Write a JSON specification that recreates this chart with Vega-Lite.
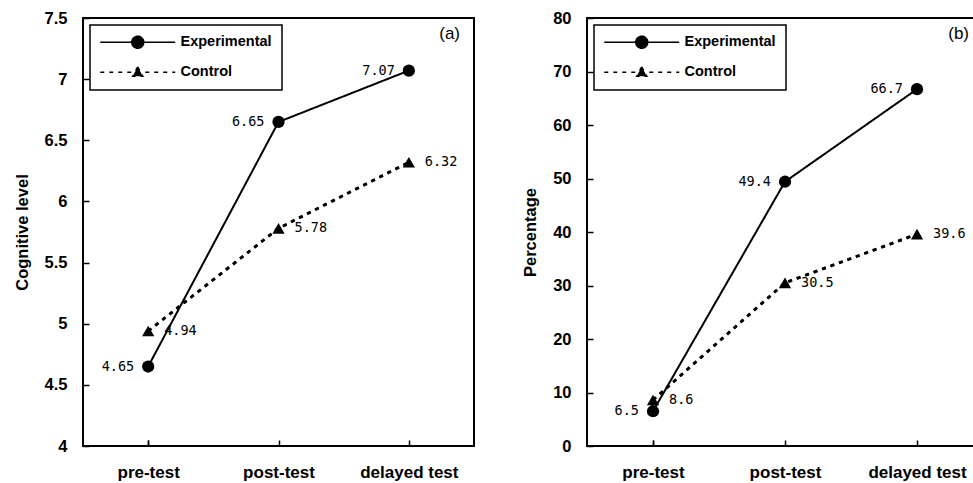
{
  "$schema": "https://vega.github.io/schema/vega-lite/v6.json",
  "background": "white",
  "padding": {"left": 13, "top": 9, "right": 0, "bottom": 0},
  "spacing": 46,
  "datasets": {
    "a": [
      {"time": "pre-test", "group": "Experimental", "value": 4.65},
      {"time": "post-test", "group": "Experimental", "value": 6.65},
      {"time": "delayed test", "group": "Experimental", "value": 7.07},
      {"time": "pre-test", "group": "Control", "value": 4.94},
      {"time": "post-test", "group": "Control", "value": 5.78},
      {"time": "delayed test", "group": "Control", "value": 6.32}
    ],
    "b": [
      {"time": "pre-test", "group": "Experimental", "value": 6.5},
      {"time": "post-test", "group": "Experimental", "value": 49.4},
      {"time": "delayed test", "group": "Experimental", "value": 66.7},
      {"time": "pre-test", "group": "Control", "value": 8.6},
      {"time": "post-test", "group": "Control", "value": 30.5},
      {"time": "delayed test", "group": "Control", "value": 39.6}
    ]
  },
  "config": {
    "view": {"stroke": "black", "strokeWidth": 2},
    "font": "Liberation Sans",
    "axis": {
      "domain": false,
      "grid": false,
      "tickColor": "black",
      "tickWidth": 1.5,
      "tickSize": -6,
      "labelFont": "Liberation Sans",
      "labelFontWeight": "bold",
      "labelFontSize": 16.5,
      "labelColor": "black",
      "titleFont": "Liberation Sans",
      "titleFontWeight": "bold",
      "titleFontSize": 16.5,
      "titleColor": "black"
    },
    "axisY": {"labelPadding": 22, "titlePadding": 14},
    "axisX": {"labelPadding": 24, "tickBand": "extent", "labelAngle": 0, "title": null, "labelFontSize": 17},
    "legend": {
      "orient": "none", "legendX": 7, "legendY": 7, "title": null,
      "strokeColor": "black", "strokeWidth": 1.5, "padding": 10, "symbolSize": 100,
      "labelFont": "Liberation Sans", "labelFontSize": 14.5, "labelFontWeight": "bold", "labelColor": "black",
      "labelOffset": 66, "rowPadding": 11,
      "symbolFillColor": "black", "symbolStrokeColor": "black", "symbolStrokeWidth": 1.5
    },
    "title": {"font": "Liberation Sans", "fontWeight": "normal", "fontSize": 17, "color": "black", "anchor": "end", "frame": "group"}
  },
  "resolve": {"scale": {"strokeDash": "independent"}, "legend": {"strokeDash": "independent"}},
  "hconcat": [
    {
      "width": 391,
      "height": 428,
      "data": {"name": "a"},
      "title": {"text": "(a)", "dy": 37, "dx": -14},
      "encoding": {
        "x": {"field": "time", "type": "nominal", "sort": ["pre-test", "post-test", "delayed test"], "scale": {"paddingInner": 0, "paddingOuter": 0}},
        "y": {"field": "value", "type": "quantitative", "title": "Cognitive level", "scale": {"domain": [4, 7.5], "nice": false, "zero": false}, "axis": {"values": [4, 4.5, 5, 5.5, 6, 6.5, 7, 7.5], "format": "~g"}}
      },
      "layer": [
        {
          "mark": {"type": "line", "color": "black", "strokeWidth": 2},
          "encoding": {
            "strokeDash": {
              "field": "group", "type": "nominal",
              "scale": {"domain": ["Experimental", "Control"], "range": [[1, 0], [4, 5]]},
              "legend": {
                "symbolType": {"expr": "datum.value === 'Experimental' ? 'M-1.4,0H13.6M7.3,0A1.2,1.2,0,1,1,4.9,0A1.2,1.2,0,1,1,7.3,0Z' : 'M-1.4,0H13.6M6.1,-1.1L7.1,0.8L5.1,0.8Z'"}
              }
            }
          }
        },
        {"transform": [{"filter": "datum.group === 'Control'"}], "mark": {"type": "line", "color": "black", "strokeWidth": 3, "strokeDash": [4, 5]}},
        {
          "mark": {"type": "point", "filled": true, "color": "black", "size": 150, "opacity": 1},
          "encoding": {
            "shape": {"field": "group", "type": "nominal", "scale": {"domain": ["Experimental", "Control"], "range": ["circle", "triangle-up"]}, "legend": null}
          }
        },
        {"transform": [{"filter": "datum.group === 'Experimental'"}], "mark": {"type": "text", "align": "right", "baseline": "middle", "dx": -14, "font": "DejaVu Sans Mono", "fontSize": 13.5, "color": "black"}, "encoding": {"text": {"field": "value", "type": "quantitative", "format": ".2f"}}},
        {"transform": [{"filter": "datum.group === 'Control'"}], "mark": {"type": "text", "align": "left", "baseline": "middle", "dx": 16, "font": "DejaVu Sans Mono", "fontSize": 13.5, "color": "black"}, "encoding": {"text": {"field": "value", "type": "quantitative", "format": ".2f"}}}
      ]
    },
    {
      "width": 396,
      "height": 428,
      "data": {"name": "b"},
      "title": {"text": "(b)", "dy": 37, "dx": -14},
      "encoding": {
        "x": {"field": "time", "type": "nominal", "sort": ["pre-test", "post-test", "delayed test"], "scale": {"paddingInner": 0, "paddingOuter": 0}},
        "y": {"field": "value", "type": "quantitative", "title": "Percentage", "scale": {"domain": [0, 80], "nice": false}, "axis": {"values": [0, 10, 20, 30, 40, 50, 60, 70, 80], "format": "d"}}
      },
      "layer": [
        {
          "mark": {"type": "line", "color": "black", "strokeWidth": 2},
          "encoding": {
            "strokeDash": {
              "field": "group", "type": "nominal",
              "scale": {"domain": ["Experimental", "Control"], "range": [[1, 0], [4, 5]]},
              "legend": {
                "symbolType": {"expr": "datum.value === 'Experimental' ? 'M-1.4,0H13.6M7.3,0A1.2,1.2,0,1,1,4.9,0A1.2,1.2,0,1,1,7.3,0Z' : 'M-1.4,0H13.6M6.1,-1.1L7.1,0.8L5.1,0.8Z'"}
              }
            }
          }
        },
        {"transform": [{"filter": "datum.group === 'Control'"}], "mark": {"type": "line", "color": "black", "strokeWidth": 3, "strokeDash": [4, 5]}},
        {
          "mark": {"type": "point", "filled": true, "color": "black", "size": 150, "opacity": 1},
          "encoding": {
            "shape": {"field": "group", "type": "nominal", "scale": {"domain": ["Experimental", "Control"], "range": ["circle", "triangle-up"]}, "legend": null}
          }
        },
        {"transform": [{"filter": "datum.group === 'Experimental'"}], "mark": {"type": "text", "align": "right", "baseline": "middle", "dx": -14, "font": "DejaVu Sans Mono", "fontSize": 13.5, "color": "black"}, "encoding": {"text": {"field": "value", "type": "quantitative", "format": ".1f"}}},
        {"transform": [{"filter": "datum.group === 'Control'"}], "mark": {"type": "text", "align": "left", "baseline": "middle", "dx": 16, "font": "DejaVu Sans Mono", "fontSize": 13.5, "color": "black"}, "encoding": {"text": {"field": "value", "type": "quantitative", "format": ".1f"}}}
      ]
    }
  ]
}
